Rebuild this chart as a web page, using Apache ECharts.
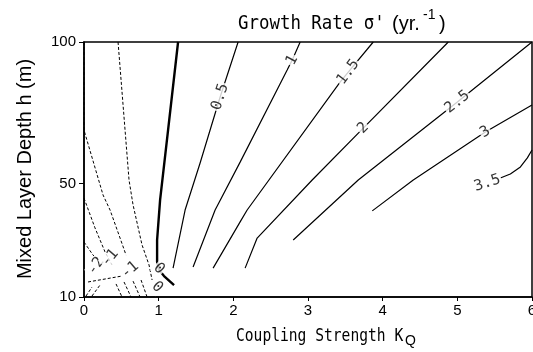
<!DOCTYPE html>
<html><head><meta charset="utf-8">
<script src="https://cdn.jsdelivr.net/npm/echarts@6/dist/echarts.min.js"></script>
<style>html,body{margin:0;padding:0;background:#fff}#c{width:533px;height:352px}</style>
</head><body><div id="c"></div>
<script>
// ---------------- DATA ----------------
const xRange = [0, 6];
const yRange = [10, 100];
const yTickValues = [10, 50, 100];
// contour lines: [coupling strength K_Q, mixed layer depth h]
const contourZero = [[1.260,100],[1.126,68.9],[1.019,44.2],[0.979,30.1],[0.979,22.4],[1.005,19.5],[1.072,17.4],[1.206,14.2]];
const contour05 = [[2.064,100],[1.823,80.6],[1.555,57.3],[1.354,40.7],[1.193,20.2]];
const contour1 = [[2.895,100],[2.788,93.6],[2.721,90.1],[2.091,57.6],[1.756,40.7],[1.461,20.6]];
const contour15 = [[3.874,100],[3.539,89.4],[3.432,85.9],[2.185,40.7],[2.091,36.5],[1.729,20.2]];
const contour2 = [[4.879,100],[3.740,69.6],[3.056,51.3],[2.319,30.8],[2.158,20.2]];
const contour25 = [[6.0,100],[5.0,78.8],[3.673,51.3],[2.802,30.1]];
const contour3 = [[6.0,77.8],[5.375,68.2],[4.410,51.3],[3.861,40.4]];
const contour35 = [[6.0,61.9],[5.938,59.1],[5.845,55.9],[5.710,53.4],[5.576,52.0]];
// negative (dashed) contours
const negA = [[0,100],[0,68.9],[0.255,46.0],[0.349,40.7],[0.483,30.8],[0.563,24.8]];
const negB = [[0.456,100],[0.603,51.3],[0.657,42.5],[0.777,28.4],[0.871,21.3],[0.912,16.0]];
const negC = [[0,44.9],[0.147,34.4],[0.282,25.9],[0.375,21.3]];
const negD = [[0,29.4],[0.121,24.8],[0.214,22.4]];
const negSegments = [
  [[0.027,10.35],[0.107,13.5]],
  [[0.107,10.35],[0.214,14.2]],
  [[0.429,14.6],[0.509,10]],
  [[0.536,15.3],[0.630,10]],
  [[0.657,15.6],[0.751,10]],
  [[0.764,16.0],[0.845,10]],
  [[0.054,15.3],[0.509,17.4]]
];
// contour labels
const labelTexts = ['0.5','1','1.5','2','2.5','3','3.5','0','0','-2','-1','-1'];
const labelPoints = [[1.823,80.6],[2.788,93.6],[3.539,89.4],[3.740,69.6],[5.0,78.8],[5.375,68.2],[5.402,50.2],[1.005,20.0],[0.979,13.5],[0.161,20.9],[0.349,23.8],[0.617,19.5]];

// ---------------- STYLE ----------------
const labelAngles = [72, 62, 53, 45, 38, 32, 18, -45, -45, 55, 50, 40];
const ink = '#000';

function solid(data, w) {
  return {type:'line', data:data, symbol:'none', silent:true, animation:false, z:2,
    lineStyle:{color:ink, width:w}};
}
function dashed(data) {
  return {type:'line', data:data, symbol:'none', silent:true, animation:false, z:2,
    lineStyle:{color:ink, width:1, type:[3,2]}};
}

const series = [
  solid(contourZero, 2.4),
  solid(contour05, 1.2), solid(contour1, 1.2), solid(contour15, 1.2), solid(contour2, 1.2),
  solid(contour25, 1.2), solid(contour3, 1.2), solid(contour35, 1.2),
  dashed(negA), dashed(negB), dashed(negC), dashed(negD)
];
negSegments.forEach(s => series.push(dashed(s)));
series.push({
  type:'scatter', silent:true, animation:false, z:5, symbolSize:1,
  itemStyle:{color:'rgba(0,0,0,0)'},
  data: labelPoints.map((p,i) => ({value:p, label:{rotate:labelAngles[i]}})),
  label:{show:true, position:'inside', color:ink, fontFamily:'DejaVu Sans Mono', fontSize:15,
    backgroundColor:'#fff', padding:[0,1],
    formatter: p => labelTexts[p.dataIndex]}
});

function txt(str, x, y, font, extra) {
  return Object.assign({type:'text', x:x, y:y, silent:true,
    style:{text:str, font:font, fill:ink, verticalAlign:'middle'}}, extra || {});
}

const chart = echarts.init(document.getElementById('c'), null, {renderer:'canvas'});
chart.setOption({
  animation:false,
  backgroundColor:'#fff',
  grid:{left:84, right:1, top:42, bottom:55, show:true, borderColor:ink, borderWidth:1.5,
    outerBoundsMode:'none', containLabel:false},
  xAxis:{type:'value', min:xRange[0], max:xRange[1], interval:1,
    axisLine:{show:true, lineStyle:{color:ink, width:1.5}},
    axisTick:{show:true, length:4, lineStyle:{color:ink}},
    axisLabel:{color:ink, fontFamily:'Liberation Sans', fontSize:15, margin:6},
    splitLine:{show:false}},
  yAxis:{type:'value', min:yRange[0], max:yRange[1],
    axisLine:{show:true, lineStyle:{color:ink, width:1.5}},
    axisTick:{show:true, length:5, customValues:yTickValues, lineStyle:{color:ink}},
    axisLabel:{color:ink, fontFamily:'Liberation Sans', fontSize:15, margin:8, customValues:yTickValues},
    splitLine:{show:false}},
  graphic:[
    txt("Growth Rate σ'", 238, 24, '20px "DejaVu Sans Mono"', {scaleX:0.87}),
    txt('(yr.', 392, 24, '20px "Liberation Sans"'),
    txt('-1', 423, 15, '14px "Liberation Sans"'),
    txt(')', 439, 24, '20px "Liberation Sans"'),
    {type:'text', x:25, y:169, rotation:Math.PI/2, silent:true,
      style:{text:'Mixed Layer Depth h (m)', font:'20px "Liberation Sans"', fill:ink,
        align:'center', verticalAlign:'middle'}},
    txt('Coupling Strength K', 236, 337, '17px "DejaVu Sans Mono"', {scaleX:0.86}),
    txt('Q', 405, 341, '14px "Liberation Sans"')
  ],
  series:series
});
</script></body></html>
